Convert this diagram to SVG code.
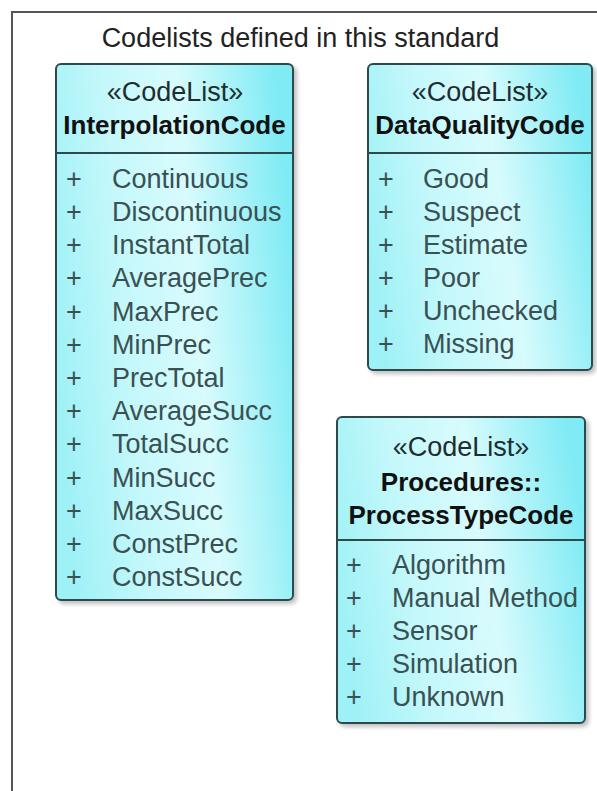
<svg xmlns="http://www.w3.org/2000/svg" width="597" height="791" viewBox="0 0 597 791">
<defs>
<linearGradient id="fill" x1="0" y1="0.6" x2="1" y2="0.4">
<stop offset="0" stop-color="#9ef1f6"/>
<stop offset="0.3" stop-color="#c4f8fb"/>
<stop offset="0.6" stop-color="#d8fbfd"/>
<stop offset="1" stop-color="#80ebf4"/>
</linearGradient>
<filter id="sh" x="-10%" y="-10%" width="120%" height="120%">
<feGaussianBlur in="SourceAlpha" stdDeviation="2"/>
<feOffset dx="3" dy="3"/>
<feComponentTransfer><feFuncA type="linear" slope="0.25"/></feComponentTransfer>
<feMerge><feMergeNode/><feMergeNode in="SourceGraphic"/></feMerge>
</filter>
<style>
.box{fill:url(#fill);stroke:#2e4a4c;stroke-width:2;}
.div{stroke:#2e4a4c;stroke-width:2;}
text{font-family:"Liberation Sans",Arial,sans-serif;font-size:27px;}
.st{fill:#1e2e30;text-anchor:middle;}
.nm{fill:#111;font-weight:bold;font-size:26px;text-anchor:middle;}
.it{fill:#3a5052;}
.title{fill:#222;text-anchor:middle;}
</style>
</defs>
<rect width="597" height="791" fill="#ffffff"/>
<g id="frame">
<rect x="12" y="12" width="620" height="820" fill="none" stroke="#555" stroke-width="2"/>
<text class="title" x="300.5" y="47">Codelists defined in this standard</text>
</g>
<g id="InterpolationCode">
<rect class="box" x="56" y="64" width="237" height="536" rx="5" filter="url(#sh)"/>
<line class="div" x1="56" y1="153" x2="293" y2="153"/>
<text class="st" x="175" y="101">«CodeList»</text>
<text class="nm" x="174.5" y="134">InterpolationCode</text>
<g class="it">
<text x="66" y="188">+</text><text x="112" y="188">Continuous</text>
<text x="66" y="221">+</text><text x="112" y="221">Discontinuous</text>
<text x="66" y="254">+</text><text x="112" y="254">InstantTotal</text>
<text x="66" y="287">+</text><text x="112" y="287">AveragePrec</text>
<text x="66" y="321">+</text><text x="112" y="321">MaxPrec</text>
<text x="66" y="354">+</text><text x="112" y="354">MinPrec</text>
<text x="66" y="387">+</text><text x="112" y="387">PrecTotal</text>
<text x="66" y="420">+</text><text x="112" y="420">AverageSucc</text>
<text x="66" y="453">+</text><text x="112" y="453">TotalSucc</text>
<text x="66" y="487">+</text><text x="112" y="487">MinSucc</text>
<text x="66" y="520">+</text><text x="112" y="520">MaxSucc</text>
<text x="66" y="553">+</text><text x="112" y="553">ConstPrec</text>
<text x="66" y="586">+</text><text x="112" y="586">ConstSucc</text>
</g>
</g>
<g id="DataQualityCode">
<rect class="box" x="368" y="64" width="224" height="306" rx="5" filter="url(#sh)"/>
<line class="div" x1="368" y1="153" x2="592" y2="153"/>
<text class="st" x="480" y="101">«CodeList»</text>
<text class="nm" x="480" y="134">DataQualityCode</text>
<g class="it">
<text x="378" y="188">+</text><text x="423" y="188">Good</text>
<text x="378" y="221">+</text><text x="423" y="221">Suspect</text>
<text x="378" y="254">+</text><text x="423" y="254">Estimate</text>
<text x="378" y="287">+</text><text x="423" y="287">Poor</text>
<text x="378" y="320">+</text><text x="423" y="320">Unchecked</text>
<text x="378" y="353">+</text><text x="423" y="353">Missing</text>
</g>
</g>
<g id="ProcessTypeCode">
<rect class="box" x="337" y="417" width="248" height="306" rx="5" filter="url(#sh)"/>
<line class="div" x1="337" y1="540" x2="585" y2="540"/>
<text class="st" x="461" y="456">«CodeList»</text>
<text class="nm" x="461" y="491">Procedures::</text>
<text class="nm" x="461" y="524">ProcessTypeCode</text>
<g class="it">
<text x="346" y="574">+</text><text x="392" y="574">Algorithm</text>
<text x="346" y="607">+</text><text x="392" y="607">Manual Method</text>
<text x="346" y="640">+</text><text x="392" y="640">Sensor</text>
<text x="346" y="673">+</text><text x="392" y="673">Simulation</text>
<text x="346" y="706">+</text><text x="392" y="706">Unknown</text>
</g>
</g>
</svg>
